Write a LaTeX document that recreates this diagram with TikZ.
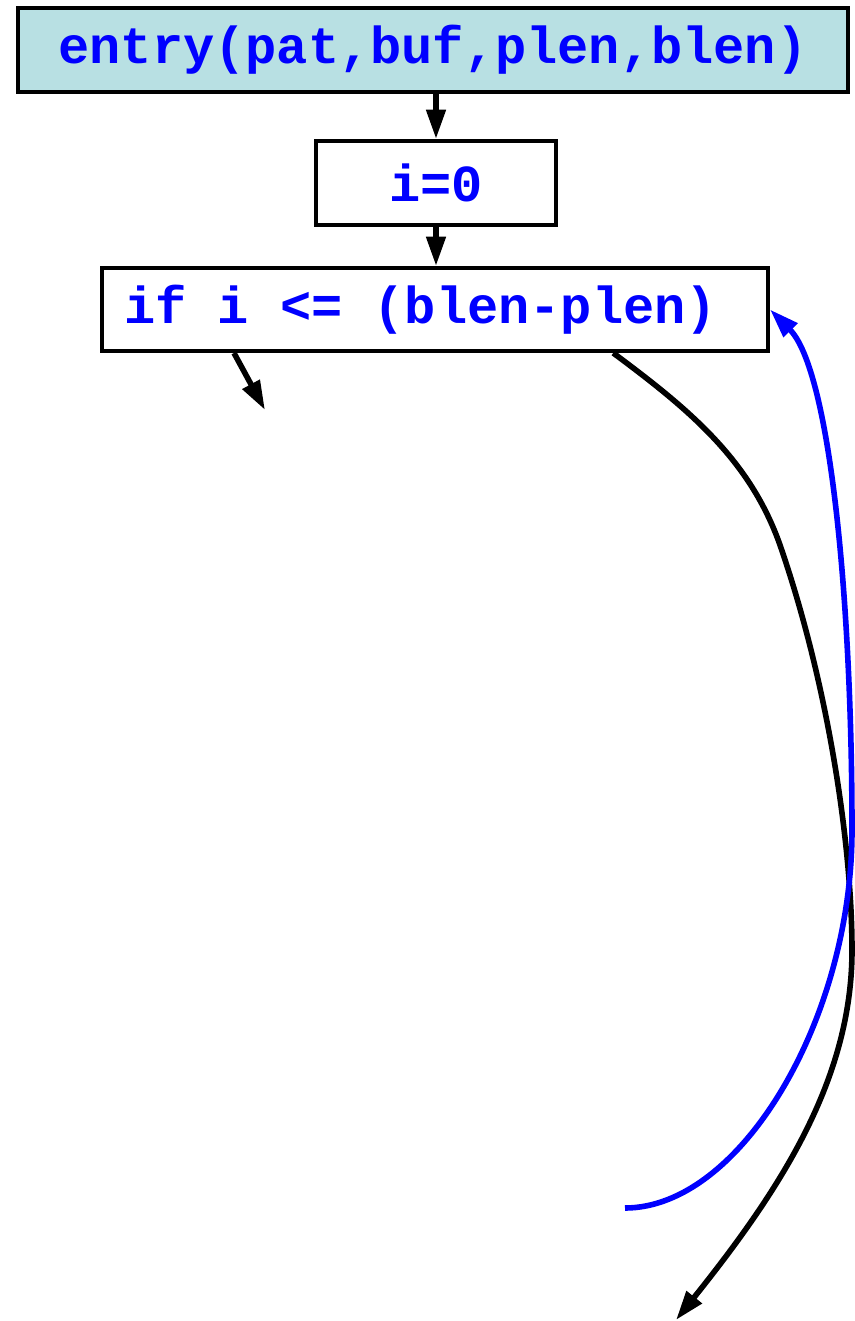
\documentclass[tikz,border=0pt]{standalone}
\usepackage{fontspec}
\newfontfamily\codefont{Liberation Mono}
\newcommand\codetext{\codefont\bfseries\fontsize{39}{44}\selectfont}
\usetikzlibrary{arrows.meta,calc}
\definecolor{entryfill}{RGB}{184,224,227}
\begin{document}
\begin{tikzpicture}[
  x=0.75pt, y=-0.75pt,
  block/.style={
    draw,
    line width=3pt,
    fill=white,
    font=\codetext,
    text=blue,
    inner sep=0pt,
    minimum height=63pt
  },
  flow/.style={line width=4.2pt, -{Triangle[length=22pt,width=14pt]}}
]
\useasboundingbox (0,0) rectangle (854,1321);
\node[block, fill=entryfill, minimum width=622.5pt] (entry) at (433,50) {entry(pat,buf,plen,blen)};
\node[block, minimum width=180pt] (init) at (436,183) {i=0};
\node[block, minimum height=62.25pt, text width=466.5pt, align=flush left, inner xsep=16.5pt] (cond) at (435,309.5) {if i <= (blen-plen)};
\coordinate (body) at (265,410);
\coordinate (done) at (676,1320);
\coordinate (latch) at (625,1208);
\draw[flow] (entry.south -| init.north) -- (init);
\draw[flow] (init) -- (cond.north -| init.south);
\draw[flow] ($(cond.south west)!0.2!(cond.south east)$) -- (body);
\draw[flow] ($(cond.south west)!0.766!(cond.south east)$) .. controls (690,410) and (750,460) .. (780,545)
  .. controls (830,690) and (852,850) .. (852,950) .. controls (852,1080) and (780,1190) .. (done);
\draw[flow, blue] (latch) .. controls (740,1208) and (852,1020) .. (852,830)
  .. controls (852,600) and (830,370) .. (cond.east);
\end{tikzpicture}
\end{document}
